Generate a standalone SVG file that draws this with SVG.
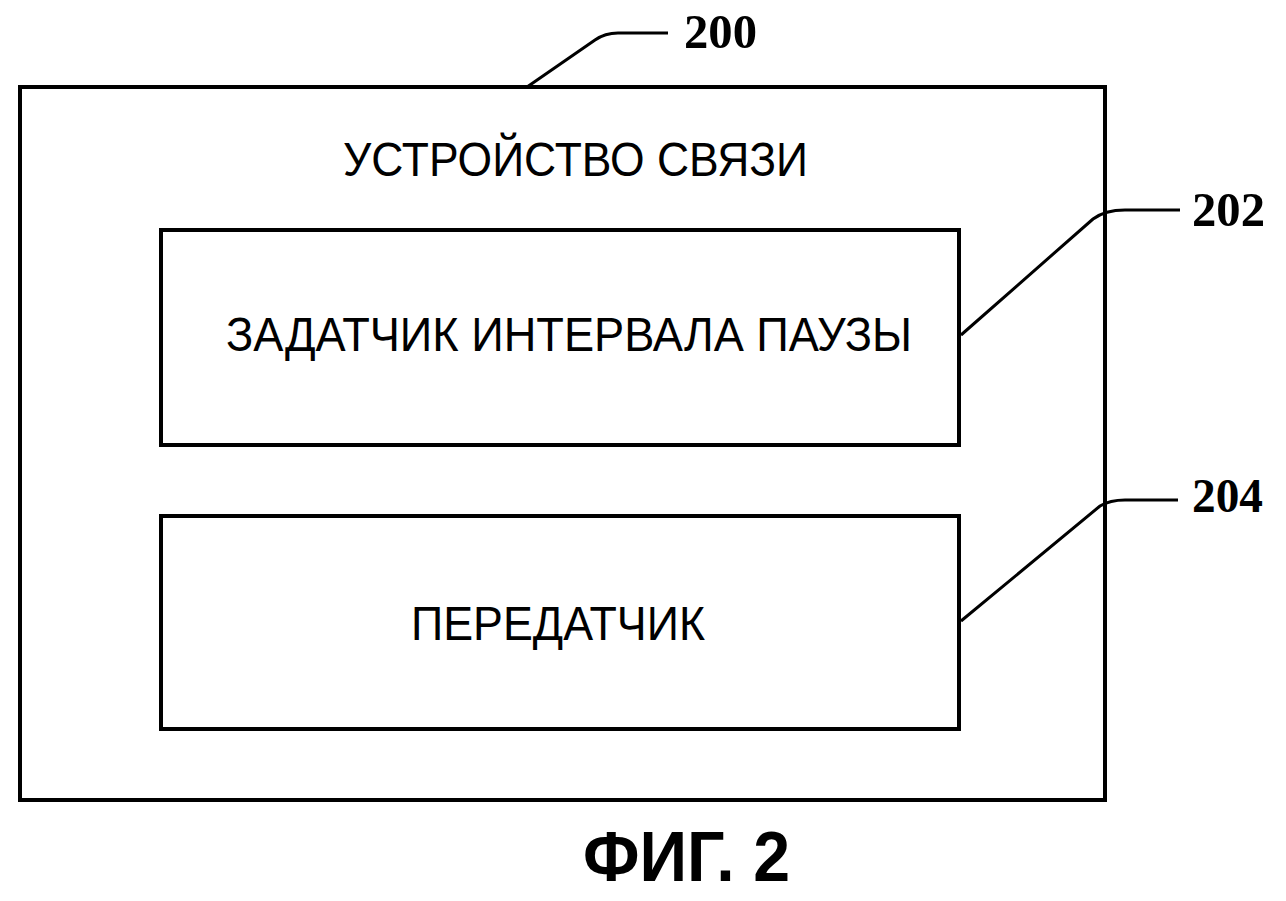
<svg xmlns="http://www.w3.org/2000/svg" width="1286" height="901" viewBox="0 0 1286 901">
<style>
.box{fill:none;stroke:#000;stroke-width:4}
.lead{fill:none;stroke:#000;stroke-width:3}
.lbl{font-family:"Liberation Sans",Arial,sans-serif;font-size:48px;fill:#000}
.ref{font-family:"Liberation Serif","Times New Roman",serif;font-size:48px;font-weight:bold;fill:#000}
.fig{font-family:"Liberation Sans",Arial,sans-serif;font-size:70px;font-weight:bold;fill:#000}
</style>
<rect width="1286" height="901" fill="#fff"/>
<g id="n200">
<rect class="box" x="20" y="87" width="1085" height="713"/>
<text class="lbl" x="343" y="176" textLength="465" lengthAdjust="spacingAndGlyphs">УСТРОЙСТВО СВЯЗИ</text>
</g>
<g id="n202">
<rect class="box" x="161" y="230" width="798" height="215"/>
<text class="lbl" x="226" y="351" textLength="686" lengthAdjust="spacingAndGlyphs">ЗАДАТЧИК ИНТЕРВАЛА ПАУЗЫ</text>
</g>
<g id="n204">
<rect class="box" x="161" y="516" width="798" height="213"/>
<text class="lbl" x="411" y="640" textLength="294" lengthAdjust="spacingAndGlyphs">ПЕРЕДАТЧИК</text>
</g>
<g id="connectors">
<path class="lead" d="M527,87 L595,40 Q605,33 618,33 L668,33"/>
<path class="lead" d="M961,335 L1093,219 Q1105,210 1125,210 L1180,210"/>
<path class="lead" d="M961,621 L1100,506 Q1110,500 1125,500 L1178,500"/>
</g>
<g id="labels">
<text class="ref" x="684" y="48" textLength="73" lengthAdjust="spacingAndGlyphs">200</text>
<text class="ref" x="1192" y="226" textLength="73" lengthAdjust="spacingAndGlyphs">202</text>
<text class="ref" x="1192" y="512" textLength="71" lengthAdjust="spacingAndGlyphs">204</text>
<text class="fig" x="583" y="881" textLength="207" lengthAdjust="spacingAndGlyphs">ФИГ. 2</text>
</g>
</svg>
